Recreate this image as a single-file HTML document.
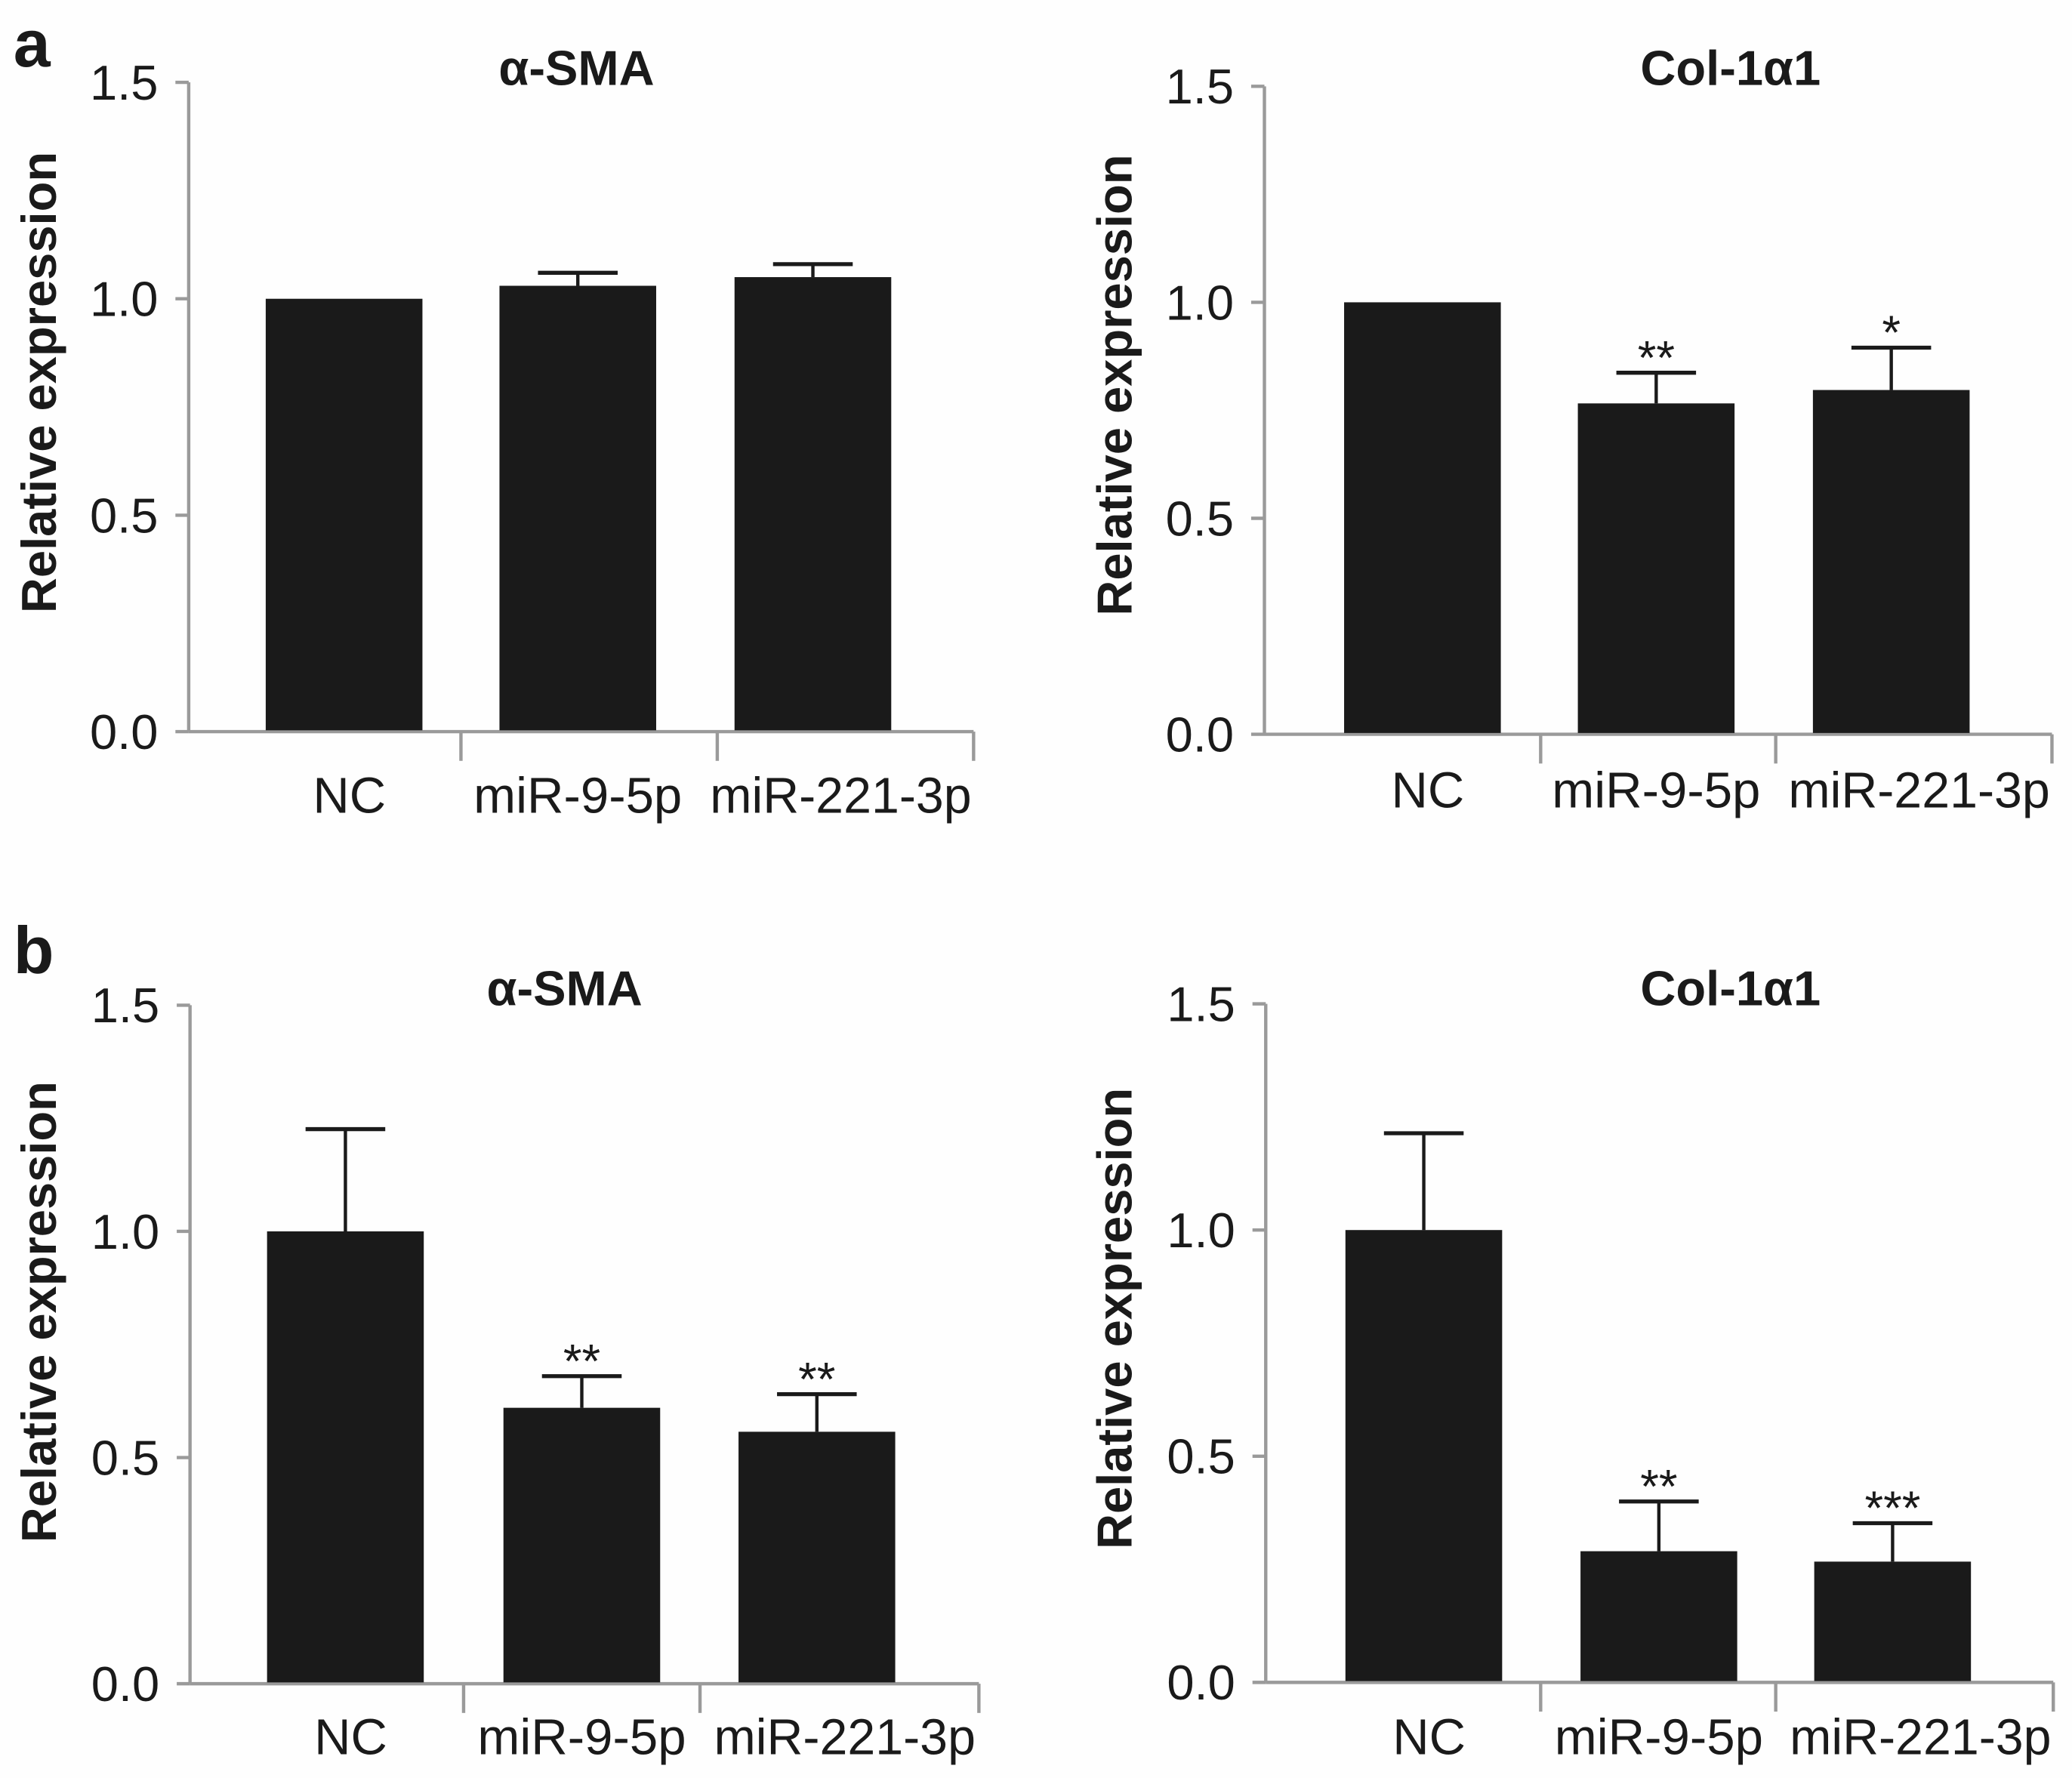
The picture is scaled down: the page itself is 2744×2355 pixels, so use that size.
<!DOCTYPE html>
<html><head><meta charset="utf-8"><style>
html,body{margin:0;padding:0;background:#fefefe;}
svg{display:block;}
text{font-family:"Liberation Sans",Arial,sans-serif;fill:#1a1a1a;}
</style></head><body>
<svg id="fig" width="2744" height="2355" viewBox="0 0 1560 1339" xmlns="http://www.w3.org/2000/svg">
<rect width="1560" height="1339" fill="#fefefe"/>
<text x="10" y="50" font-size="50" font-weight="bold">a</text>
<text x="10" y="733" font-size="50" font-weight="bold">b</text>
</svg>
<script>
const categories = ["NC", "miR-9-5p", "miR-221-3p"];
const yTicks = [0, 0.5, 1.0, 1.5];
const yTickLabels = ["0.0", "0.5", "1.0", "1.5"];
const titles = ["α-SMA", "Col-1α1", "α-SMA", "Col-1α1"];
const aSmaA = [1.0, 1.03, 1.05];
const aSmaAErr = [0, 0.03, 0.03];
const aSmaAStars = ["", "", ""];
const colA = [1.0, 0.766, 0.797];
const colAErr = [0, 0.071, 0.098];
const colAStars = ["", "**", "*"];
const aSmaB = [1.0, 0.61, 0.557];
const aSmaBErr = [0.226, 0.07, 0.083];
const aSmaBStars = ["", "**", "**"];
const colB = [1.0, 0.29, 0.267];
const colBErr = [0.214, 0.11, 0.085];
const colBStars = ["", "**", "***"];

const labelW = [55, 157, 197];
const labelOff = [4, 0, 21];
const panels = [
  {name:"a-asma", ax:142, y0:551, y15:62, xEnd:733, ticks:[347,540,733], bars:[200,376,553], bw:118, tx:434, ty:64, yt:[28,288], xl:612, vals:aSmaA, err:aSmaAErr, stars:aSmaAStars, title:titles[0]},
  {name:"a-col", ax:952, y0:553, y15:65, xEnd:1545, ticks:[1160,1337,1545], bars:[1012,1188,1365], bw:118, tx:1303, ty:64, yt:[838,290], xl:608, vals:colA, err:colAErr, stars:colAStars, title:titles[1]},
  {name:"b-asma", ax:143, y0:1268, y15:757, xEnd:737, ticks:[349,527,737], bars:[201,379,556], bw:118, tx:425, ty:757, yt:[28,988], xl:1321, vals:aSmaB, err:aSmaBErr, stars:aSmaBStars, title:titles[2]},
  {name:"b-col", ax:953, y0:1267, y15:756, xEnd:1546, ticks:[1160,1337,1546], bars:[1013,1190,1366], bw:118, tx:1303, ty:757, yt:[838,993], xl:1321, vals:colB, err:colBErr, stars:colBStars, title:titles[3]}
];
const svg = document.getElementById('fig');
const NS = "http://www.w3.org/2000/svg";
function mk(tag, attrs, parent){const e=document.createElementNS(NS,tag);for(const k in attrs)e.setAttribute(k,attrs[k]);(parent||svg).appendChild(e);return e;}
panels.forEach(p=>{
  const g = mk('g',{});
  
  
  const yScale = v => p.y0 - v*(p.y0-p.y15)/1.5;
  const axis = '#9a9a9a';
  const yl = mk('line',{x1:p.ax,y1:p.y15,x2:p.ax,y2:p.y0,stroke:axis,'stroke-width':2.5},g);
  
  
  const xa = mk('line',{x1:p.ax,y1:p.y0,x2:p.xEnd,y2:p.y0,stroke:axis,'stroke-width':2.5},g);
  
  
  yTicks.forEach((t,i)=>{
    const y=yScale(t);
    const tk = mk('line',{x1:p.ax-10,y1:y,x2:p.ax,y2:y,stroke:axis,'stroke-width':2.5},g);
    
    
    const tl = mk('text',{x:p.ax-23,y:y+13,'font-size':37,'text-anchor':'end'},g);
    tl.textContent = yTickLabels[i];
    
    
  });
  p.ticks.forEach(x=>{
    const tk = mk('line',{x1:x,y1:p.y0,x2:x,y2:p.y0+22,stroke:axis,'stroke-width':2.5},g);
    
    
  });
  categories.forEach((c,i)=>{
    const bx=p.bars[i], cx=bx+p.bw/2;
    const top=yScale(p.vals[i]);
    if(p.err[i]>0){
      const ey=yScale(p.vals[i]+p.err[i]);
      const el = mk('line',{x1:cx,y1:top,x2:cx,y2:ey,stroke:'#1a1a1a','stroke-width':2.5},g);
      
      
      const cap = mk('line',{x1:cx-30,y1:ey,x2:cx+30,y2:ey,stroke:'#1a1a1a','stroke-width':3},g);
      
      
      if(p.stars[i]){
        const st = mk('text',{x:cx,y:ey+1,'font-size':36,'text-anchor':'middle'},g);
        st.textContent = p.stars[i];
        
        
      }
    }
    const r = mk('rect',{x:bx,y:top,width:p.bw,height:p.y0-1-top,fill:'#1a1a1a'},g);
    
    
    const xl = mk('text',{x:cx+labelOff[i],y:p.xl,'font-size':38,'text-anchor':'middle',textLength:labelW[i],lengthAdjust:'spacingAndGlyphs'},g);
    xl.textContent = c;
    
    
  });
  const t = mk('text',{x:p.tx,y:p.ty,'font-size':37,'font-weight':'bold','text-anchor':'middle'},g);
  t.textContent = p.title;
  
  
  const yt = mk('text',{x:0,y:0,'font-size':37,'font-weight':'bold','text-anchor':'middle',transform:`translate(${p.yt[0]+14},${p.yt[1]}) rotate(-90)`},g);
  yt.textContent = 'Relative expression';
  
  
});
</script>
</body></html>
